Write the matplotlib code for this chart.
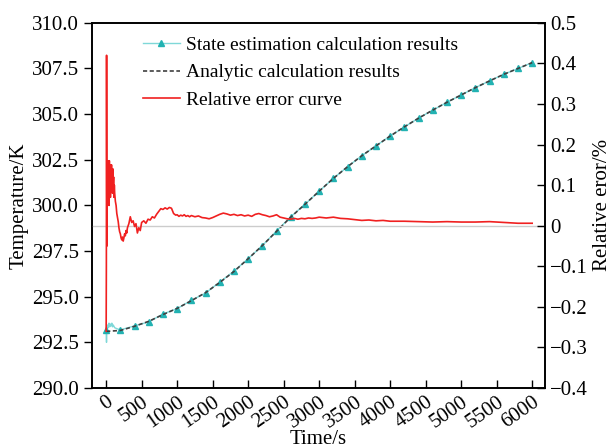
import matplotlib
matplotlib.use("Agg")
import matplotlib.pyplot as plt
from matplotlib.ticker import FixedLocator, FuncFormatter

plt.rcParams['font.family'] = ['Liberation Serif', 'DejaVu Serif']
plt.rcParams['axes.unicode_minus'] = True

# analytic temperature, every 200 s
t_analytic = [0, 200, 400, 600, 800, 1000, 1200, 1400, 1600, 1800, 2000,
              2200, 2400, 2600, 2800, 3000, 3200, 3400, 3600, 3800, 4000,
              4200, 4400, 4600, 4800, 5000, 5200, 5400, 5600, 5800, 6000]
T_analytic = [293.1, 293.15, 293.38, 293.65, 294.02, 294.36, 294.78, 295.22,
              295.78, 296.38, 297.08, 297.8, 298.58, 299.36, 300.06, 300.78,
              301.48, 302.12, 302.72, 303.26, 303.8, 304.3, 304.78, 305.22,
              305.65, 306.05, 306.45, 306.82, 307.18, 307.5, 307.82]

# state estimation (noisy start, then follows the analytic curve)
t_est = [0, 5, 10, 20, 30, 40, 50, 60, 70, 80, 90, 100, 120, 150, 200,
         400, 600, 800, 1000, 1200, 1400, 1600, 1800, 2000, 2200, 2400, 2600,
         2800, 3000, 3200, 3400, 3600, 3800, 4000, 4200, 4400, 4600, 4800,
         5000, 5200, 5400, 5600, 5800, 6000]
T_est = [293.15, 292.5, 293.2, 293.45, 293.3, 293.55, 293.35, 293.5, 293.4,
         293.55, 293.35, 293.45, 293.3, 293.25, 293.18,
         293.4, 293.62, 294.05, 294.35, 294.8, 295.2, 295.8, 296.4, 297.08,
         297.8, 298.6, 299.38, 300.06, 300.78, 301.48, 302.12, 302.72, 303.26,
         303.8, 304.3, 304.78, 305.22, 305.65, 306.05, 306.45, 306.82, 307.18,
         307.5, 307.82]
est_markers = [0] + list(range(14, len(t_est)))

# relative error (%), first part up to 980 s
t_err_early = [0, 3, 6, 9, 12, 16, 20, 25, 30, 35, 40, 45, 50, 55, 60, 65, 70,
               75, 80, 85, 90, 95, 100, 105, 110, 115, 120, 130, 140, 150, 160,
               170, 180, 190, 200, 210, 220, 230, 240, 250, 260, 270, 280, 290,
               300, 320, 340, 360, 380, 400, 420, 440, 460, 480, 500, 530, 560,
               590, 620, 650, 680, 710, 740, 770, 800, 830, 860, 890, 920, 950,
               980]
err_early = [-0.26, -0.10, 0.42, 0.10, -0.05, 0.14, 0.06, 0.16, 0.08, 0.15,
             0.05, 0.16, 0.10, 0.15, 0.07, 0.14, 0.09, 0.15, 0.11, 0.13, 0.08,
             0.14, 0.10, 0.12, 0.07, 0.10, 0.08, 0.06, 0.05, 0.03, 0.02, 0.01,
             -0.005, -0.015, -0.02, -0.03, -0.035, -0.028, -0.038, -0.03,
             -0.02, -0.025, -0.012, -0.018, -0.005, 0.005, 0.022, 0.008, 0.012,
             -0.002, 0.005, -0.018, -0.005, -0.012, 0.008, 0.012, 0.006, 0.016,
             0.014, 0.022, 0.019, 0.028, 0.035, 0.042, 0.040, 0.044, 0.041,
             0.045, 0.043, 0.030, 0.026]
# relative error (%), 1000 s onwards
t_err_late = [1000, 1025, 1050, 1075, 1100, 1125, 1150, 1175, 1200,
              1250, 1300, 1350, 1400, 1450, 1500, 1550, 1600, 1650, 1700,
              1750, 1800, 1850, 1900, 1950, 2000,
              2050, 2100, 2150, 2200, 2250, 2300, 2350, 2400, 2450, 2500,
              2550, 2600,
              2650, 2700, 2750, 2800, 2850, 2900, 2950, 3000,
              3100, 3200, 3300, 3400, 3500, 3600, 3700, 3800, 3900, 4000,
              4200, 4400, 4600, 4800, 5000, 5200, 5400, 5600, 5800, 6000]
err_late = [0.027, 0.023, 0.026, 0.024, 0.027, 0.023, 0.025, 0.022, 0.025,
            0.022, 0.024, 0.020, 0.019, 0.017, 0.020, 0.024, 0.028, 0.031,
            0.029, 0.026, 0.028, 0.025, 0.027, 0.024, 0.026,
            0.023, 0.028, 0.030, 0.027, 0.025, 0.022, 0.024, 0.027, 0.021,
            0.019, 0.017, 0.016,
            0.018, 0.016, 0.018, 0.017, 0.019, 0.018, 0.019, 0.021,
            0.019, 0.021, 0.018, 0.017, 0.015, 0.013, 0.014, 0.012, 0.013,
            0.011,
            0.011, 0.010, 0.009, 0.010, 0.009, 0.009, 0.010, 0.008, 0.006,
            0.006]
t_err = t_err_early + t_err_late
err = err_early + err_late

x_ticks = list(range(0, 6001, 500))
T_ticks = [290.0, 292.5, 295.0, 297.5, 300.0, 302.5, 305.0, 307.5, 310.0]
err_ticks = [-0.4, -0.3, -0.2, -0.1, 0, 0.1, 0.2, 0.3, 0.4, 0.5]

fig = plt.figure(figsize=(6.13, 4.48), dpi=100)
ax = fig.add_axes([0.150, 0.134, 0.739, 0.815])
ax2 = ax.twinx()

l1, = ax.plot(t_est, T_est, color='#7fd8d8', lw=1.0, marker='^', ms=4.5,
              mfc='#22b2b2', mec='#22b2b2', markevery=est_markers,
              label='State estimation calculation results')
l2, = ax.plot(t_analytic, T_analytic, color='#404040', lw=1.2, ls=(0, (2.5, 1.5)),
              label='Analytic calculation results')

ax2.axhline(0, color='#cccccc', lw=1.0, zorder=1)
l3, = ax2.plot(t_err, err, color='#f02020', lw=1.2,
               label='Relative error curve')

ax.set_xlim(-200, 6180)
ax.set_ylim(290, 310)
ax2.set_ylim(-0.4, 0.5)

ax.xaxis.set_major_locator(FixedLocator(x_ticks))
ax.yaxis.set_major_locator(FixedLocator(T_ticks))
ax.yaxis.set_major_formatter(FuncFormatter(lambda v, p: f"{v:.1f}"))
ax2.yaxis.set_major_locator(FixedLocator(err_ticks))
ax2.yaxis.set_major_formatter(
    FuncFormatter(lambda v, p: "0" if abs(v) < 1e-9 else f"{v:.1f}".replace("-", "\u2212")))

ax.tick_params(axis='y', direction='out', length=6, width=1, labelsize=15)
ax.tick_params(axis='x', direction='in', length=6, width=1, labelsize=15)
ax2.tick_params(axis='y', direction='in', length=6, width=1, labelsize=15)
for lab in ax.get_xticklabels():
    lab.set_rotation(35)
    lab.set_ha('right')
    lab.set_va('top')
    lab.set_rotation_mode('anchor')

for a in (ax, ax2):
    for s in a.spines.values():
        s.set_linewidth(1.2)

ax.set_xlabel('Time/s', fontsize=15, labelpad=-1.5)
ax.set_ylabel('Temperature/K', fontsize=15, labelpad=2)
ax2.set_ylabel('Relative eror/%', fontsize=15)

ax2.legend(handles=[l1, l2, l3], loc='upper left', bbox_to_anchor=(0.082, 1.0),
           frameon=False, fontsize=14, handlelength=1.9, handletextpad=0.35,
           labelspacing=0.5, borderaxespad=0.3)

fig.savefig('out.png', dpi=100)
